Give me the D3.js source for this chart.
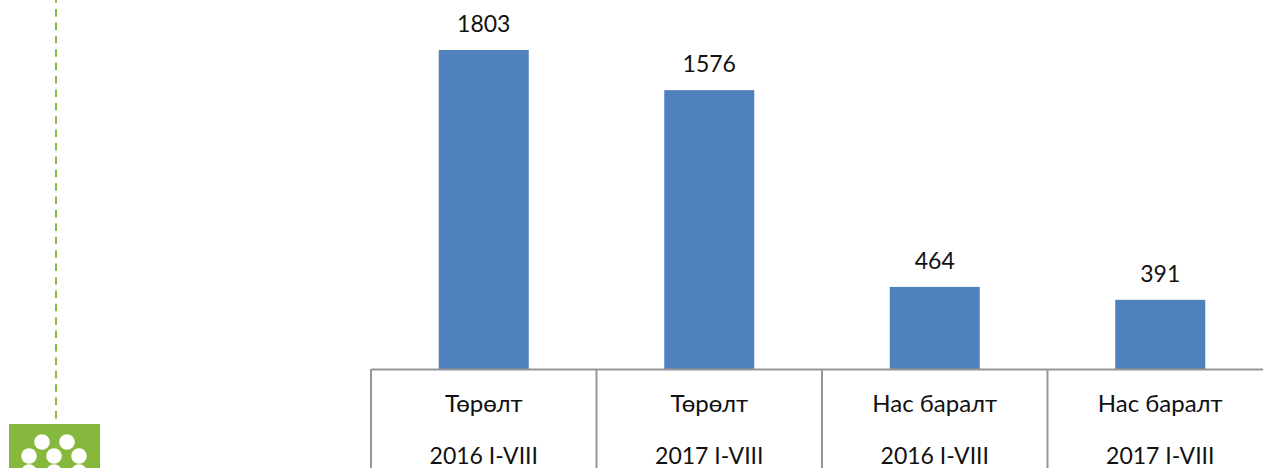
<!DOCTYPE html>
<html>
<head>
<meta charset="utf-8">
<script src="https://cdnjs.cloudflare.com/ajax/libs/d3/7.8.5/d3.min.js"></script>
<style>
html, body { margin: 0; padding: 0; background: #fff; overflow: hidden; }
text { font-family: Lato, "Open Sans", sans-serif; fill: #111; }
</style>
</head>
<body>
<div id="chart"></div>
<script>
// values
var events = ["Төрөлт", "Төрөлт", "Нас баралт", "Нас баралт"];
var periods = ["2016 I-VIII", "2017 I-VIII", "2016 I-VIII", "2017 I-VIII"];
var values = [1803, 1576, 464, 391];

var width = 1263, height = 468;
var baseline = 369;

var svg = d3.select("#chart").append("svg")
    .attr("width", width)
    .attr("height", height)
    .style("display", "block");

// set the ranges
var x = d3.scaleBand().domain(d3.range(values.length)).range([371, 1273]).paddingInner(0).paddingOuter(0);
var y = d3.scaleLinear().domain([0, 1803]).range([baseline, 50]);
var barWidth = 90;

svg.selectAll("rect.bar")
    .data(values)
    .enter().append("rect")
    .attr("class", "bar")
    .attr("x", function(d, i) { return x(i) + x.bandwidth() / 2 - barWidth / 2; })
    .attr("y", function(d) { return y(d); })
    .attr("width", barWidth)
    .attr("height", function(d) { return baseline - y(d); })
    .attr("fill", "#4f81bd");

svg.selectAll("text.value")
    .data(values)
    .enter().append("text")
    .attr("class", "value")
    .attr("x", function(d, i) { return x(i) + x.bandwidth() / 2; })
    .attr("y", function(d) { return y(d) - 18; })
    .attr("text-anchor", "middle")
    .style("font-size", "23px")
    .text(function(d) { return d; });

// category axis, two rows of labels
var axis = svg.append("g")
    .attr("transform", "translate(0," + baseline + ")")
    .call(d3.axisBottom(x).tickSize(0).tickFormat(function() { return ""; }));
axis.select(".domain").attr("stroke", "#969696").attr("stroke-width", 2);

axis.selectAll(".tick text")
    .attr("fill", null)
    .style("font-size", "23px")
    .attr("y", 0)
    .attr("dy", 0)
    .each(function(d, i) {
        var t = d3.select(this);
        t.append("tspan").attr("x", 0).attr("y", 43).style("font-size", "24px").text(events[i]);
        t.append("tspan").attr("x", 0).attr("y", 95).text(periods[i]);
    });

// cell separators
axis.selectAll("line.sep")
    .data(d3.range(values.length))
    .enter().append("line")
    .attr("class", "sep")
    .attr("x1", function(d) { return x(d); })
    .attr("x2", function(d) { return x(d); })
    .attr("y1", 0)
    .attr("y2", height - baseline)
    .attr("stroke", "#969696")
    .attr("stroke-width", 2);

// green dashed rule and icon on the left
svg.append("line")
    .attr("x1", 56).attr("x2", 56)
    .attr("y1", -4.4).attr("y2", 420)
    .attr("stroke", "#8ab93f")
    .attr("stroke-width", 2)
    .attr("stroke-dasharray", "7.5 5.9");

svg.append("rect")
    .attr("x", 9).attr("y", 424)
    .attr("width", 91).attr("height", 44)
    .attr("fill", "#85b83c");

var dotX = [42, 67, 29, 54, 79, 29, 54, 79];
var dotY = [442, 442, 456, 456, 456, 472, 472, 472];
svg.selectAll("circle.dot")
    .data(dotX)
    .enter().append("circle")
    .attr("class", "dot")
    .attr("cx", function(d) { return d; })
    .attr("cy", function(d, i) { return dotY[i]; })
    .attr("r", 7.8)
    .attr("fill", "#fff");
</script>
</body>
</html>
